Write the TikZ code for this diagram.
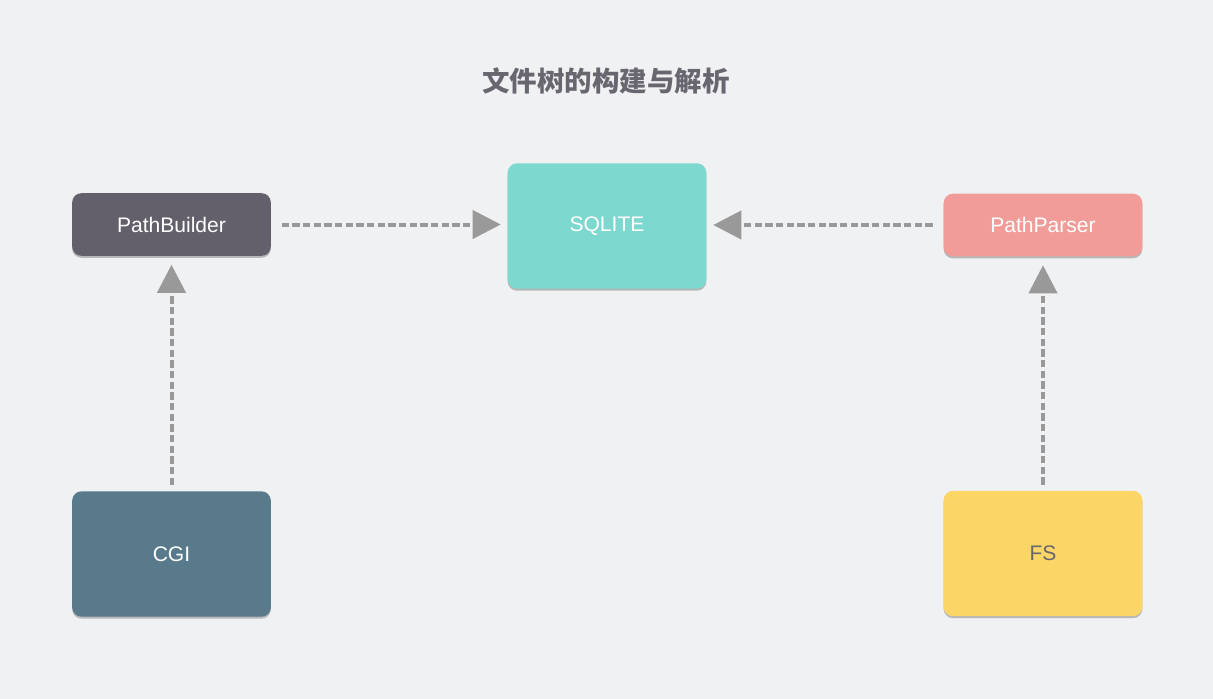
\documentclass[tikz,border=0pt]{standalone}
\usepackage[rgb]{xcolor}
\usepackage{fontspec}
\setmainfont{Liberation Sans}
\newfontfamily\cjk{Noto Sans CJK SC}
\usepackage{tikz}
\usetikzlibrary{arrows.meta,shadows}

\definecolor{bg}{HTML}{F0F1F3}
\definecolor{builderc}{HTML}{63606B}
\definecolor{sqlitec}{HTML}{7DD8CF}
\definecolor{parserc}{HTML}{F19C98}
\definecolor{cgic}{HTML}{587A8B}
\definecolor{fsc}{HTML}{FBD666}
\definecolor{arrowc}{HTML}{999999}
\definecolor{titlec}{HTML}{68666F}

\begin{document}
\begin{tikzpicture}[x=0.75pt,y=-0.75pt]
  \tikzset{box/.style={rounded corners=7pt,minimum width=149pt,minimum height=47pt,
      text=white,font=\fontsize{15.8}{18}\selectfont,
      drop shadow={shadow xshift=0pt,shadow yshift=-1.5pt,opacity=.35,fill=black!70}},
    tall/.style={minimum height=94pt},
    flow/.style={draw=arrowc,line width=3pt,dash pattern=on 5.5pt off 2.5pt,
      -{Triangle[length=21pt,width=21pt]},shorten <=8pt,shorten >=5pt}}%
\useasboundingbox[fill=bg] (0,0) rectangle (1213,699);
\node[text=titlec,font=\cjk\bfseries\fontsize{20.6}{24}\selectfont] (title) at (606,81) {文件树的构建与解析};
\node[box,fill=builderc] (builder) at (171.5,224.5) {PathBuilder};
\node[box,tall,fill=sqlitec] (sqlite) at (607,226) {SQLITE};
\node[box,fill=parserc] (parser) at (1043,225) {PathParser};
\node[box,tall,fill=cgic] (cgi) at (171.5,554) {CGI};
\node[box,tall,fill=fsc,text=titlec] (fs) at (1043,553.5) {FS};
\draw[flow] (builder.east) -- (builder.east -| sqlite.west);
\draw[flow] (parser.west) -- (parser.west -| sqlite.east);
\draw[flow,shorten <=4.5pt,shorten >=6.5pt] (cgi.north) -- (builder.south);
\draw[flow,shorten <=4.5pt,shorten >=6.5pt] (fs.north) -- (parser.south);
\end{tikzpicture}
\end{document}
